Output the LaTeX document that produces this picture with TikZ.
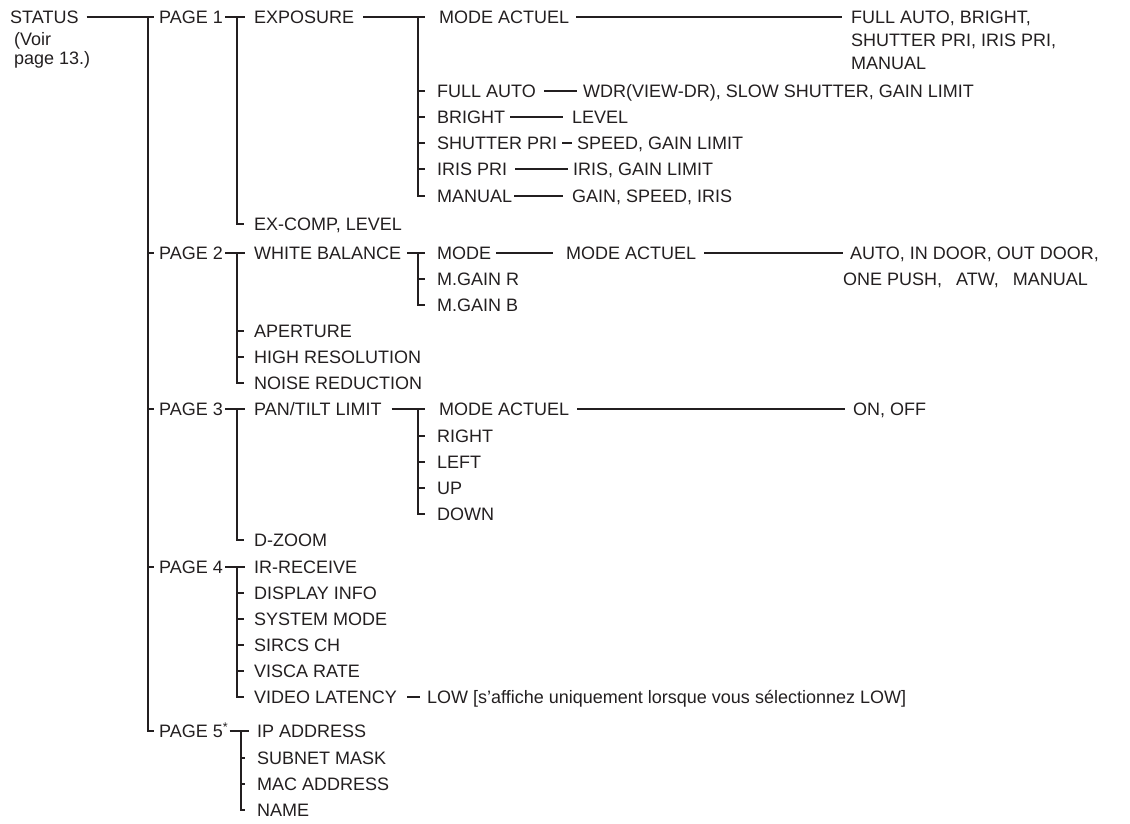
\documentclass[tikz,border=0pt]{standalone}
\usepackage{fontspec}
\setmainfont{Liberation Sans}
\definecolor{ink}{HTML}{231F20}
\newcommand\lblfont{\fontsize{18pt}{21pt}\selectfont}
\begin{document}
\begin{tikzpicture}[x=1pt,y=-1pt,
  lbl/.style={anchor=west,inner sep=0pt,text height=12.9pt,text depth=0pt,font=\lblfont,text=ink},
  ln/.style={line width=1.5pt,draw=ink}]
\useasboundingbox (0,0) rectangle (1130,823);
% level 0
\node[lbl] (status) at (10,17) {STATUS};
\node[lbl] (voir1) at (14,39) {(Voir};
\node[lbl] (voir2) at (14,58) {page 13.)};
% level 1
\node[lbl] (p1) at (159,17) {PAGE 1};
\node[lbl] (p2) at (159,253) {PAGE 2};
\node[lbl] (p3) at (159,409) {PAGE 3};
\node[lbl] (p4) at (159,567) {PAGE 4};
\node[lbl] (p5) at (159,731) {PAGE 5\textsuperscript{*}};
% level 2
\node[lbl] (exposure) at (254,17) {EXPOSURE};
\node[lbl] (excomp) at (254,224) {EX-COMP, LEVEL};
\node[lbl] (wb) at (254,253) {WHITE BALANCE};
\node[lbl] (aperture) at (254,331) {APERTURE};
\node[lbl] (hires) at (254,357) {HIGH RESOLUTION};
\node[lbl] (noise) at (254,383) {NOISE REDUCTION};
\node[lbl] (pantilt) at (254,409) {PAN/TILT LIMIT};
\node[lbl] (dzoom) at (254,540) {D-ZOOM};
\node[lbl] (irr) at (254,567) {IR-RECEIVE};
\node[lbl] (disp) at (254,593) {DISPLAY INFO};
\node[lbl] (sysm) at (254,619) {SYSTEM MODE};
\node[lbl] (sircs) at (254,645) {SIRCS CH};
\node[lbl] (visca) at (254,671) {VISCA RATE};
\node[lbl] (vlat) at (254,697) {VIDEO LATENCY};
\node[lbl] (ipa) at (257,731) {IP ADDRESS};
\node[lbl] (subnet) at (257,758) {SUBNET MASK};
\node[lbl] (mac) at (257,784) {MAC ADDRESS};
\node[lbl] (name) at (257,810) {NAME};
% level 3
\node[lbl] (ma1) at (439,17) {MODE ACTUEL};
\node[lbl] (fa) at (437,91) {FULL AUTO};
\node[lbl] (br) at (437,117) {BRIGHT};
\node[lbl] (sp) at (437,143) {SHUTTER PRI};
\node[lbl] (irp) at (437,169) {IRIS PRI};
\node[lbl] (man) at (437,196) {MANUAL};
\node[lbl] (mode) at (437,253) {MODE};
\node[lbl] (mgr) at (437,279) {M.GAIN R};
\node[lbl] (mgb) at (437,305) {M.GAIN B};
\node[lbl] (ma3) at (439,409) {MODE ACTUEL};
\node[lbl] (right) at (437,436) {RIGHT};
\node[lbl] (left) at (437,462) {LEFT};
\node[lbl] (up) at (437,488) {UP};
\node[lbl] (down) at (437,514) {DOWN};
% level 4
\node[lbl] (v1a) at (851,17) {FULL AUTO, BRIGHT,};
\node[lbl] (v1b) at (851,40) {SHUTTER PRI, IRIS PRI,};
\node[lbl] (v1c) at (851,63) {MANUAL};
\node[lbl] (wdr) at (583,91) {WDR(VIEW-DR), SLOW SHUTTER, GAIN LIMIT};
\node[lbl] (lev) at (572,117) {LEVEL};
\node[lbl] (spd) at (577,143) {SPEED, GAIN LIMIT};
\node[lbl] (irg) at (573,169) {IRIS, GAIN LIMIT};
\node[lbl] (gsi) at (572,196) {GAIN, SPEED, IRIS};
\node[lbl] (ma2) at (566,253) {MODE ACTUEL};
\node[lbl] (v2a) at (850,253) {AUTO, IN DOOR, OUT DOOR,};
\node[lbl] (v2b) at (843,279) {ONE PUSH,\hspace{14pt}ATW,\hspace{14pt}MANUAL};
\node[lbl] (onoff) at (853,409) {ON, OFF};
\node[lbl] (low) at (427,697) {LOW [s’affiche uniquement lorsque vous sélectionnez LOW]};
% connectors level 0-1
\coordinate (v0) at (148,17);
\draw[ln] ([xshift=8pt]status.east) -- ([xshift=-5pt]p1.west);
\draw[ln] (v0) |- ([xshift=-5pt]p5.west);
\foreach \n in {p2,p3,p4} \draw[ln] (v0 |- \n.west) -- ([xshift=-5pt]\n.west);
% level 1-2
\coordinate (v1) at (237,17);
\coordinate (v5) at (241,731);
\draw[ln] ([xshift=2pt]p1.east) -- ([xshift=-9pt]exposure.west);
\draw[ln] (v1) |- ([xshift=-10pt]excomp.west);
\draw[ln] ([xshift=2pt]p2.east) -- ([xshift=-9pt]wb.west);
\draw[ln] (v1 |- wb.west) |- ([xshift=-10pt]noise.west);
\foreach \n in {aperture,hires} \draw[ln] (v1 |- \n.west) -- ([xshift=-10pt]\n.west);
\draw[ln] ([xshift=2pt]p3.east) -- ([xshift=-9pt]pantilt.west);
\draw[ln] (v1 |- pantilt.west) |- ([xshift=-10pt]dzoom.west);
\draw[ln] ([xshift=2pt]p4.east) -- ([xshift=-9pt]irr.west);
\draw[ln] (v1 |- irr.west) |- ([xshift=-10pt]vlat.west);
\foreach \n in {disp,sysm,sircs,visca} \draw[ln] (v1 |- \n.west) -- ([xshift=-10pt]\n.west);
\draw[ln] ([xshift=1pt]p5.east) -- ([xshift=-8pt]ipa.west);
\draw[ln] (v5) |- ([xshift=-12pt]name.west);
\foreach \n in {subnet,mac} \draw[ln] (v5 |- \n.west) -- ([xshift=-12pt]\n.west);
% level 2-3
\coordinate (w1) at (418,17);
\draw[ln] ([xshift=9pt]exposure.east) -- ([xshift=-14pt]ma1.west);
\draw[ln] (w1) |- ([xshift=-12pt]man.west);
\foreach \n in {fa,br,sp,irp} \draw[ln] (w1 |- \n.west) -- ([xshift=-12pt]\n.west);
\draw[ln] ([xshift=6pt]wb.east) -- ([xshift=-12pt]mode.west);
\draw[ln] (w1 |- mode.west) |- ([xshift=-12pt]mgb.west);
\draw[ln] (w1 |- mgr.west) -- ([xshift=-12pt]mgr.west);
\draw[ln] ([xshift=10pt]pantilt.east) -- ([xshift=-14pt]ma3.west);
\draw[ln] (w1 |- ma3.west) |- ([xshift=-12pt]down.west);
\foreach \n in {right,left,up} \draw[ln] (w1 |- \n.west) -- ([xshift=-12pt]\n.west);
% level 3-4
\draw[ln] ([xshift=7pt]ma1.east) -- ([xshift=-9pt]v1a.west);
\draw[ln] ([xshift=8pt]fa.east) -- ([xshift=-6pt]wdr.west);
\draw[ln] ([xshift=5pt]br.east) -- ([xshift=-9pt]lev.west);
\draw[ln] ([xshift=5pt]sp.east) -- ([xshift=-5pt]spd.west);
\draw[ln] ([xshift=8pt]irp.east) -- ([xshift=-5pt]irg.west);
\draw[ln] ([xshift=2pt]man.east) -- ([xshift=-9pt]gsi.west);
\draw[ln] ([xshift=5pt]mode.east) -- ([xshift=-13pt]ma2.west);
\draw[ln] ([xshift=8pt]ma2.east) -- ([xshift=-7pt]v2a.west);
\draw[ln] ([xshift=8pt]ma3.east) -- ([xshift=-8pt]onoff.west);
\draw[ln] ([xshift=10pt]vlat.east) -- ([xshift=-7pt]low.west);
\end{tikzpicture}
\end{document}
